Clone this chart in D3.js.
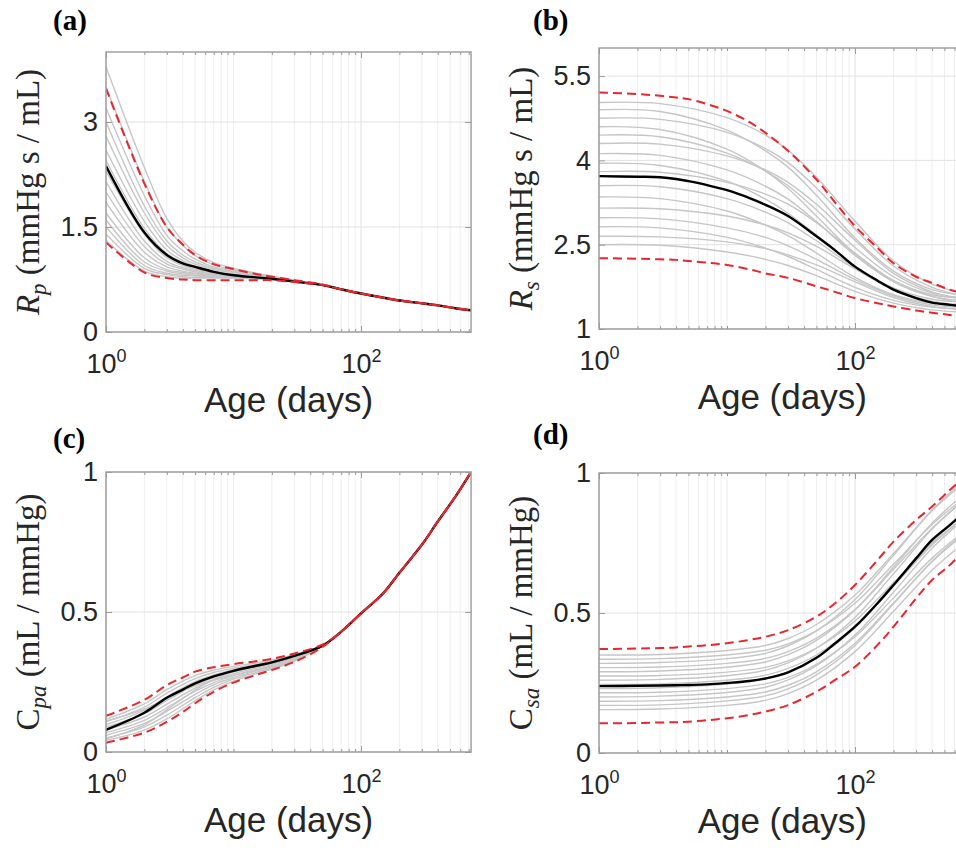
<!DOCTYPE html>
<html>
<head>
<meta charset="utf-8">
<script src="https://cdn.jsdelivr.net/npm/d3@7"></script>
<style>
  body { margin: 0; background: #fff; }
  svg { display: block; }
</style>
</head>
<body>
<div id="chart"></div>
<script>
var ages = [1, 2, 3, 4, 5, 7, 10, 15, 20, 30, 50, 70, 100, 150, 200, 300, 400, 550, 730];

// (a) R_p
var rpMean  = [2.37, 1.42, 1.10, 0.98, 0.93, 0.86, 0.81, 0.78, 0.76, 0.72, 0.67, 0.61, 0.55, 0.49, 0.45, 0.41, 0.38, 0.34, 0.31];
var rpUpper = [3.48, 2.12, 1.50, 1.25, 1.10, 0.97, 0.90, 0.83, 0.79, 0.74, 0.68, 0.61, 0.55, 0.49, 0.45, 0.41, 0.38, 0.34, 0.31];
var rpLower = [1.28, 0.85, 0.77, 0.75, 0.74, 0.74, 0.74, 0.74, 0.74, 0.715, 0.67, 0.61, 0.55, 0.49, 0.45, 0.41, 0.38, 0.34, 0.31];
// sample curves only differ early on, after that they sit on the mean
var rpGreyAges = [1, 2, 3, 4, 5, 7, 10, 15, 20, 30];
var rpGrey = [
  [3.79, 2.35, 1.62, 1.30, 1.14, 0.99, 0.91, 0.84, 0.80, 0.74],
  [3.50, 2.15, 1.50, 1.24, 1.09, 0.96, 0.89, 0.83, 0.79, 0.74],
  [3.20, 1.95, 1.38, 1.16, 1.04, 0.93, 0.87, 0.82, 0.78, 0.73],
  [3.00, 1.80, 1.30, 1.10, 1.00, 0.91, 0.86, 0.81, 0.78, 0.73],
  [2.80, 1.70, 1.24, 1.06, 0.97, 0.89, 0.85, 0.80, 0.77, 0.73],
  [2.60, 1.58, 1.17, 1.02, 0.94, 0.87, 0.83, 0.79, 0.77, 0.72],
  [2.45, 1.48, 1.12, 0.99, 0.92, 0.86, 0.82, 0.79, 0.76, 0.72],
  [2.30, 1.40, 1.06, 0.95, 0.90, 0.85, 0.81, 0.78, 0.76, 0.72],
  [2.15, 1.30, 1.01, 0.92, 0.88, 0.84, 0.80, 0.78, 0.76, 0.72],
  [2.00, 1.22, 0.97, 0.90, 0.86, 0.83, 0.80, 0.77, 0.76, 0.72],
  [1.85, 1.14, 0.93, 0.87, 0.84, 0.82, 0.79, 0.77, 0.75, 0.72],
  [1.70, 1.06, 0.89, 0.85, 0.83, 0.81, 0.79, 0.77, 0.75, 0.72],
  [1.60, 1.00, 0.87, 0.83, 0.81, 0.80, 0.78, 0.77, 0.75, 0.72],
  [1.50, 0.95, 0.84, 0.81, 0.80, 0.79, 0.78, 0.76, 0.75, 0.72],
  [1.40, 0.91, 0.82, 0.79, 0.78, 0.78, 0.77, 0.76, 0.75, 0.72],
  [1.31, 0.87, 0.79, 0.77, 0.77, 0.77, 0.77, 0.76, 0.75, 0.72]
];

// (b) R_s
var rsMean  = [3.72, 3.71, 3.70, 3.67, 3.63, 3.56, 3.47, 3.33, 3.21, 3.01, 2.65, 2.40, 2.11, 1.86, 1.70, 1.55, 1.47, 1.43, 1.40];
var rsUpper = [5.21, 5.18, 5.15, 5.12, 5.09, 5.00, 4.88, 4.68, 4.49, 4.17, 3.66, 3.25, 2.83, 2.44, 2.17, 1.93, 1.82, 1.70, 1.62];
var rsLower = [2.26, 2.25, 2.24, 2.23, 2.21, 2.18, 2.14, 2.06, 1.99, 1.91, 1.76, 1.66, 1.55, 1.46, 1.40, 1.33, 1.29, 1.25, 1.22];
var rsGreyAges = [1, 3, 10, 20, 30, 50, 100, 200, 400, 730];
var rsGrey = [
  [5.03, 5.01, 4.76, 4.45, 4.18, 3.70, 2.92, 2.21, 1.80, 1.63],
  [4.90, 4.87, 4.54, 4.17, 3.88, 3.38, 2.62, 2.03, 1.70, 1.60],
  [4.75, 4.73, 4.50, 4.21, 3.96, 3.51, 2.78, 2.12, 1.74, 1.58],
  [4.60, 4.55, 4.20, 3.81, 3.50, 3.01, 2.34, 1.86, 1.61, 1.55],
  [4.45, 4.42, 4.13, 3.81, 3.55, 3.12, 2.45, 1.93, 1.64, 1.55],
  [4.30, 4.29, 4.08, 3.83, 3.61, 3.22, 2.58, 1.99, 1.66, 1.52],
  [4.12, 4.09, 3.83, 3.54, 3.31, 2.91, 2.31, 1.84, 1.58, 1.50],
  [3.95, 3.91, 3.63, 3.31, 3.06, 2.67, 2.12, 1.73, 1.53, 1.48],
  [3.80, 3.79, 3.61, 3.40, 3.22, 2.89, 2.35, 1.86, 1.58, 1.46],
  [3.55, 3.53, 3.32, 3.08, 2.89, 2.57, 2.09, 1.71, 1.49, 1.43],
  [3.35, 3.32, 3.10, 2.85, 2.66, 2.35, 1.92, 1.61, 1.46, 1.42],
  [3.15, 3.14, 3.01, 2.85, 2.71, 2.47, 2.07, 1.70, 1.49, 1.40],
  [2.98, 2.96, 2.80, 2.63, 2.48, 2.24, 1.88, 1.59, 1.43, 1.38],
  [2.82, 2.80, 2.63, 2.44, 2.29, 2.06, 1.74, 1.51, 1.39, 1.36],
  [2.65, 2.64, 2.55, 2.43, 2.32, 2.14, 1.84, 1.56, 1.40, 1.34],
  [2.50, 2.49, 2.37, 2.24, 2.13, 1.95, 1.67, 1.46, 1.34, 1.30]
];

// (c) C_pa
var cpaMean  = [0.079, 0.140, 0.194, 0.223, 0.245, 0.270, 0.290, 0.308, 0.320, 0.343, 0.380, 0.430, 0.495, 0.568, 0.640, 0.740, 0.823, 0.912, 1.000];
var cpaUpper = [0.129, 0.186, 0.239, 0.266, 0.287, 0.303, 0.314, 0.324, 0.333, 0.352, 0.384, 0.430, 0.495, 0.568, 0.640, 0.740, 0.823, 0.912, 1.000];
var cpaLower = [0.033, 0.069, 0.108, 0.143, 0.174, 0.215, 0.248, 0.275, 0.293, 0.322, 0.375, 0.430, 0.495, 0.568, 0.640, 0.740, 0.823, 0.912, 1.000];
var cpaGreyAges = [1, 2, 3, 5, 7, 10, 15, 20, 30];
var cpaGrey = [
  [0.041, 0.078, 0.118, 0.183, 0.222, 0.253, 0.279, 0.296, 0.324],
  [0.050, 0.090, 0.132, 0.194, 0.231, 0.260, 0.284, 0.300, 0.327],
  [0.060, 0.102, 0.145, 0.206, 0.240, 0.266, 0.289, 0.304, 0.330],
  [0.069, 0.113, 0.158, 0.217, 0.248, 0.273, 0.294, 0.308, 0.333],
  [0.079, 0.125, 0.171, 0.228, 0.257, 0.280, 0.299, 0.312, 0.336],
  [0.089, 0.137, 0.184, 0.240, 0.266, 0.286, 0.303, 0.316, 0.339],
  [0.098, 0.149, 0.197, 0.251, 0.275, 0.293, 0.308, 0.320, 0.342],
  [0.108, 0.160, 0.210, 0.262, 0.284, 0.299, 0.313, 0.324, 0.345],
  [0.117, 0.172, 0.223, 0.273, 0.292, 0.306, 0.318, 0.328, 0.348],
  [0.047, 0.097, 0.151, 0.221, 0.259, 0.288, 0.309, 0.324, 0.348],
  [0.110, 0.153, 0.193, 0.236, 0.257, 0.274, 0.291, 0.303, 0.328]
];

// (d) C_sa
var csaMean  = [0.239, 0.240, 0.241, 0.242, 0.243, 0.245, 0.250, 0.257, 0.266, 0.288, 0.340, 0.392, 0.451, 0.535, 0.600, 0.695, 0.761, 0.814, 0.862];
var csaUpper = [0.371, 0.373, 0.375, 0.377, 0.380, 0.385, 0.392, 0.404, 0.415, 0.439, 0.487, 0.535, 0.600, 0.689, 0.755, 0.832, 0.880, 0.939, 0.990];
var csaLower = [0.106, 0.107, 0.109, 0.110, 0.112, 0.117, 0.124, 0.136, 0.148, 0.171, 0.219, 0.261, 0.308, 0.386, 0.451, 0.552, 0.618, 0.671, 0.730];
var csaGreyAges = [1, 3, 10, 20, 30, 50, 100, 200, 400, 730];
var csaGrey = [
  [0.350, 0.352, 0.366, 0.384, 0.409, 0.459, 0.564, 0.713, 0.865, 0.970],
  [0.335, 0.337, 0.350, 0.367, 0.390, 0.437, 0.535, 0.674, 0.816, 0.915],
  [0.320, 0.323, 0.337, 0.356, 0.383, 0.436, 0.548, 0.706, 0.868, 0.980],
  [0.305, 0.307, 0.320, 0.338, 0.362, 0.410, 0.512, 0.656, 0.803, 0.905],
  [0.290, 0.293, 0.306, 0.325, 0.351, 0.402, 0.511, 0.664, 0.821, 0.930],
  [0.275, 0.277, 0.289, 0.306, 0.329, 0.375, 0.472, 0.608, 0.748, 0.845],
  [0.260, 0.263, 0.276, 0.296, 0.322, 0.374, 0.484, 0.640, 0.800, 0.910],
  [0.245, 0.247, 0.260, 0.278, 0.302, 0.350, 0.452, 0.596, 0.743, 0.845],
  [0.230, 0.233, 0.246, 0.265, 0.290, 0.340, 0.447, 0.599, 0.753, 0.860],
  [0.215, 0.217, 0.230, 0.247, 0.270, 0.317, 0.415, 0.554, 0.696, 0.795],
  [0.200, 0.203, 0.216, 0.235, 0.261, 0.312, 0.421, 0.574, 0.731, 0.840],
  [0.185, 0.187, 0.200, 0.218, 0.242, 0.290, 0.392, 0.536, 0.683, 0.785],
  [0.170, 0.172, 0.186, 0.204, 0.229, 0.279, 0.384, 0.533, 0.685, 0.790],
  [0.155, 0.157, 0.170, 0.188, 0.212, 0.260, 0.362, 0.506, 0.653, 0.755]
];

// Axis ticks
var xMajorTicks = [1, 100];
var xMinorTicks = [2, 3, 4, 5, 6, 7, 8, 9, 10, 20, 30, 40, 50, 60, 70, 80, 90, 200, 300, 400, 500, 600, 700];
var rpTicks = [0, 1.5, 3];
var rsTicks = [1, 2.5, 4, 5.5];
var cTicks = [0, 0.5, 1];

/* === Layout === */

var width = 956;
var height = 850;
var axisGrey = '#9b9b9b';
var textColor = '#262626';

var panels = [
  { id: 'a', tag: '(a)', tagX: 53, tagY: 30, left: 106, top: 52, bottom: 332, decade: 127.5,
    yDomain: [0, 4], yTicks: rpTicks, sym: 'R', symItalic: true, sub: 'p', unit: ' (mmHg s / mL)', titleX: 39,
    mean: rpMean, upper: rpUpper, lower: rpLower, greyAges: rpGreyAges, grey: rpGrey },
  { id: 'b', tag: '(b)', tagX: 533, tagY: 30, left: 599, top: 48, bottom: 329, decade: 128,
    yDomain: [1, 6], yTicks: rsTicks, sym: 'R', symItalic: true, sub: 's', unit: ' (mmHg s / mL)', titleX: 532,
    mean: rsMean, upper: rsUpper, lower: rsLower, greyAges: rsGreyAges, grey: rsGrey },
  { id: 'c', tag: '(c)', tagX: 53, tagY: 448, left: 106, top: 472, bottom: 752, decade: 127.5,
    yDomain: [0, 1], yTicks: cTicks, sym: 'C', symItalic: false, sub: 'pa', unit: ' (mL / mmHg)', titleX: 39,
    mean: cpaMean, upper: cpaUpper, lower: cpaLower, greyAges: cpaGreyAges, grey: cpaGrey },
  { id: 'd', tag: '(d)', tagX: 533, tagY: 444, left: 599, top: 473, bottom: 753, decade: 128,
    yDomain: [0, 1], yTicks: cTicks, sym: 'C', symItalic: false, sub: 'sa', unit: ' (mL / mmHg)', titleX: 532,
    mean: csaMean, upper: csaUpper, lower: csaLower, greyAges: csaGreyAges, grey: csaGrey }
];

var svg = d3.select('#chart').append('svg')
  .attr('width', width)
  .attr('height', height);

panels.forEach(drawPanel);

function drawPanel(p) {
  var right = p.left + Math.log10(730) * p.decade;
  var x = d3.scaleLog().domain([1, 730]).range([p.left, right]);
  var y = d3.scaleLinear().domain(p.yDomain).range([p.bottom, p.top]);
  var g = svg.append('g').attr('class', 'panel-' + p.id);

  g.append('clipPath')
      .attr('id', 'clip-' + p.id)
    .append('rect')
      .attr('x', p.left)
      .attr('y', p.top)
      .attr('width', right - p.left)
      .attr('height', p.bottom - p.top);

  // Grid
  var grid = g.append('g').attr('class', 'grid');
  grid.selectAll('line.minor-x')
    .data(xMinorTicks)
    .enter().append('line')
      .attr('class', 'minor-x')
      .attr('x1', function(d) { return x(d); })
      .attr('x2', function(d) { return x(d); })
      .attr('y1', p.top)
      .attr('y2', p.bottom)
      .attr('stroke', '#eeeeee')
      .attr('stroke-width', 1);
  grid.selectAll('line.major-x')
    .data(xMajorTicks)
    .enter().append('line')
      .attr('class', 'major-x')
      .attr('x1', function(d) { return x(d); })
      .attr('x2', function(d) { return x(d); })
      .attr('y1', p.top)
      .attr('y2', p.bottom)
      .attr('stroke', '#e0e0e0')
      .attr('stroke-width', 1);
  grid.selectAll('line.major-y')
    .data(p.yTicks)
    .enter().append('line')
      .attr('class', 'major-y')
      .attr('x1', p.left)
      .attr('x2', right)
      .attr('y1', function(d) { return y(d); })
      .attr('y2', function(d) { return y(d); })
      .attr('stroke', '#e2e2e2')
      .attr('stroke-width', 1);

  var line = d3.line()
    .x(function(d) { return x(d[0]); })
    .y(function(d) { return y(d[1]); })
    .curve(d3.curveCatmullRom.alpha(0.5));

  var plot = g.append('g').attr('clip-path', 'url(#clip-' + p.id + ')');

  // Sample curves
  plot.selectAll('path.sample')
    .data(p.grey.map(function(vals) { return greyPoints(p, vals); }))
    .enter().append('path')
      .attr('class', 'sample')
      .attr('d', line)
      .attr('fill', 'none')
      .attr('stroke', '#c6c6c6')
      .attr('stroke-width', 1.4);

  plot.append('path')
    .datum(pairs(p.mean))
    .attr('d', line)
    .attr('fill', 'none')
    .attr('stroke', '#000')
    .attr('stroke-width', 2.4);

  plot.selectAll('path.bound')
    .data([pairs(p.upper), pairs(p.lower)])
    .enter().append('path')
      .attr('class', 'bound')
      .attr('d', line)
      .attr('fill', 'none')
      .attr('stroke', '#e8262e')
      .attr('stroke-width', 2)
      .attr('stroke-dasharray', '9,5');

  // Axes, ticks pointing inwards like MATLAB
  var xAxis = g.append('g')
    .attr('transform', 'translate(0,' + p.bottom + ')')
    .call(d3.axisBottom(x).tickValues(xMajorTicks).tickSizeInner(-6).tickSizeOuter(0)
      .tickPadding(22).tickFormat(function() { return '10'; }));
  xAxis.selectAll('.tick text')
    .append('tspan')
      .attr('dy', -11)
      .attr('font-size', '18px')
      .text(function(d) { return Math.round(Math.log10(d)); });

  g.append('g')
    .attr('transform', 'translate(0,' + p.bottom + ')')
    .call(d3.axisBottom(x).tickValues(xMinorTicks).tickSizeInner(-3).tickSizeOuter(0).tickFormat(''));
  g.append('g')
    .attr('transform', 'translate(0,' + p.top + ')')
    .call(d3.axisTop(x).tickValues(xMajorTicks).tickSizeInner(-6).tickSizeOuter(0).tickFormat(''));
  g.append('g')
    .attr('transform', 'translate(0,' + p.top + ')')
    .call(d3.axisTop(x).tickValues(xMinorTicks).tickSizeInner(-3).tickSizeOuter(0).tickFormat(''));

  g.append('g')
    .attr('transform', 'translate(' + p.left + ',0)')
    .call(d3.axisLeft(y).tickValues(p.yTicks).tickSizeInner(-6).tickSizeOuter(0)
      .tickPadding(8).tickFormat(function(d) { return String(d); }));
  g.append('g')
    .attr('transform', 'translate(' + right + ',0)')
    .call(d3.axisRight(y).tickValues(p.yTicks).tickSizeInner(-6).tickSizeOuter(0).tickFormat(''));

  g.selectAll('.domain').remove();
  g.selectAll('.tick line').attr('stroke', axisGrey);
  g.selectAll('.tick text')
    .attr('fill', textColor)
    .attr('font-family', '"Liberation Sans", Arial, sans-serif')
    .attr('font-size', '27px');

  g.append('rect')
    .attr('x', p.left)
    .attr('y', p.top)
    .attr('width', right - p.left)
    .attr('height', p.bottom - p.top)
    .attr('fill', 'none')
    .attr('stroke', axisGrey)
    .attr('stroke-width', 1.4);

  // Titles
  g.append('text')
    .attr('x', (p.left + right) / 2)
    .attr('y', p.bottom + 80)
    .attr('text-anchor', 'middle')
    .attr('font-family', '"Liberation Sans", Arial, sans-serif')
    .attr('font-size', '35px')
    .attr('fill', textColor)
    .text('Age (days)');

  var yTitle = g.append('text')
    .attr('transform', 'translate(' + p.titleX + ',' + ((p.top + p.bottom) / 2) + ') rotate(-90)')
    .attr('text-anchor', 'middle')
    .attr('font-family', '"Liberation Serif", "Times New Roman", serif')
    .attr('font-size', '33px')
    .attr('fill', textColor);
  yTitle.append('tspan')
    .attr('font-style', p.symItalic ? 'italic' : 'normal')
    .text(p.sym);
  yTitle.append('tspan')
    .attr('font-style', 'italic')
    .attr('font-size', '23px')
    .attr('dy', 7)
    .text(p.sub);
  yTitle.append('tspan')
    .attr('dy', -7)
    .text(p.unit);

  g.append('text')
    .attr('x', p.tagX)
    .attr('y', p.tagY)
    .attr('font-family', '"Liberation Serif", "Times New Roman", serif')
    .attr('font-weight', 'bold')
    .attr('font-size', '29px')
    .attr('fill', '#000')
    .text(p.tag);
}

/* === Helpers === */

function pairs(values) {
  return ages.map(function(a, i) { return [a, values[i]]; });
}

// Sample curves are stored up to where they separate from the mean;
// past that point they follow the mean curve.
function greyPoints(p, vals) {
  var pts = p.greyAges.map(function(a, i) { return [a, vals[i]]; });
  var last = p.greyAges[p.greyAges.length - 1];
  ages.forEach(function(a, i) {
    if (a > last) {
      pts.push([a, p.mean[i]]);
    }
  });
  return pts;
}
</script>
</body>
</html>
